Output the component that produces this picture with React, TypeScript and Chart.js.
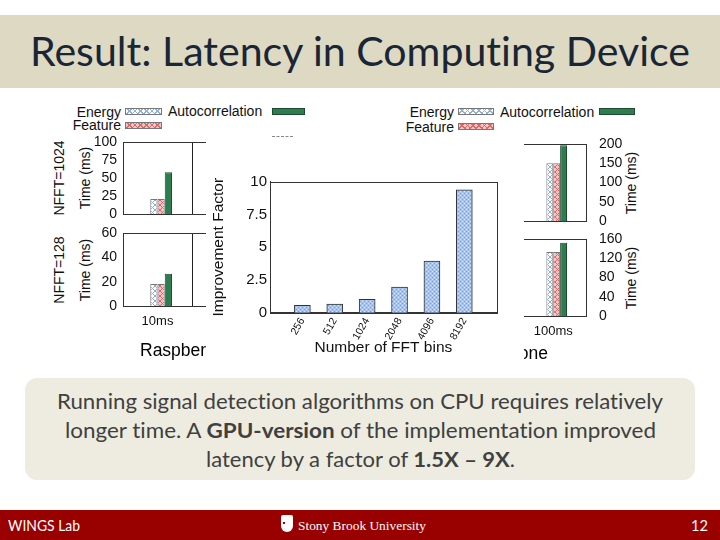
import React, { useEffect, useLayoutEffect, useRef } from 'react';
import { Chart, registerables } from 'chart.js';
Chart.register(...registerables);
Chart.defaults.font.family = "'Liberation Sans', Arial, sans-serif";

// ---- data ----
const fftBins = ['256', '512', '1024', '2048', '4096', '8192'];
const improvementFactor = [0.56, 0.66, 1.02, 1.96, 3.95, 9.37];
const improvementTicks = [0, 2.5, 5, 7.5, 10];

const seriesNames = ['Energy', 'Feature', 'Autocorrelation'];
const piWindows = ['10ms', ''];
const phoneWindows = ['', '100ms'];
const piNfft1024 = [21, 21, 58];
const piNfft128 = [18, 18, 26.5];
const phoneNfft1024 = [150, 150, 197];
const phoneNfft128 = [133, 133, 152];
const piTicks1024 = [0, 25, 50, 75, 100];
const piTicks128 = [0, 20, 40, 60];
const phoneTicks1024 = [0, 50, 100, 150, 200];
const phoneTicks128 = [0, 40, 80, 120, 160];

// ---- helpers ----
function hatch(bg: string, line: string, size = 5) {
  const c = document.createElement('canvas');
  c.width = size; c.height = size;
  const g = c.getContext('2d')!;
  g.fillStyle = bg; g.fillRect(0, 0, size, size);
  g.strokeStyle = line; g.lineWidth = 1;
  g.beginPath(); g.moveTo(0, 0); g.lineTo(size, size); g.moveTo(size, 0); g.lineTo(0, size); g.stroke();
  return g.createPattern(c, 'repeat')!;
}
function dots() {
  const c = document.createElement('canvas');
  c.width = 4; c.height = 4;
  const g = c.getContext('2d')!;
  g.fillStyle = '#a9c3ec'; g.fillRect(0, 0, 4, 4);
  g.fillStyle = '#7f9fd6'; g.fillRect(0, 0, 1, 1); g.fillRect(2, 2, 1, 1);
  g.fillStyle = '#d8e4f7'; g.fillRect(2, 0, 1, 1); g.fillRect(0, 2, 1, 1);
  return g.createPattern(c, 'repeat')!;
}

const framePlugin = {
  id: 'frame',
  afterDatasetsDraw(chart: any) {
    const { ctx, chartArea: a } = chart;
    ctx.save();
    ctx.strokeStyle = '#333';
    ctx.lineWidth = 1;
    ctx.strokeRect(Math.round(a.left) + 0.5, Math.round(a.top) + 0.5, Math.round(a.right - a.left), Math.round(a.bottom - a.top));
    ctx.restore();
  },
};

function Fit({ left, top, width, style, children }: any) {
  const ref = useRef<HTMLSpanElement>(null);
  useLayoutEffect(() => {
    const el = ref.current;
    if (!el) return;
    el.style.transform = 'none';
    const w = el.getBoundingClientRect().width;
    if (w > 0) el.style.transform = `scaleX(${width / w})`;
  });
  return (
    <div style={{ position: 'absolute', left, top, width, whiteSpace: 'nowrap' }}>
      <span ref={ref} style={{ display: 'inline-block', whiteSpace: 'nowrap', transformOrigin: 'left center', fontVariantLigatures: 'none', ...style }}>
        {children}
      </span>
    </div>
  );
}

type MiniProps = {
  left: number; top: number; width: number; height: number;
  windows: string[]; slot: number; values: number[]; ticks: number[];
  side: 'left' | 'right'; showX: boolean;
  padding: { left: number; right: number; top: number; bottom: number };
  yWidth: number; xHeight: number;
};

function MiniChart(p: MiniProps) {
  const ref = useRef<HTMLCanvasElement>(null);
  useEffect(() => {
    const fills: any[] = [hatch('#ffffff', '#8eb0e0'), hatch('#f4c4c4', '#d96a6a'), '#2e7d4f'];
    const chart = new Chart(ref.current!, {
      type: 'bar',
      data: {
        labels: p.windows,
        datasets: [
          { label: '', data: p.windows.map(() => null) },
          ...seriesNames.map((name, i) => ({
            label: name,
            data: p.windows.map((_, k) => (k === p.slot ? p.values[i] : null)),
            backgroundColor: fills[i],
            borderColor: i === 2 ? '#1d4a30' : '#777',
            borderWidth: 1,
          })),
        ] as any,
      },
      options: {
        animation: false,
        responsive: false,
        devicePixelRatio: 1,
        datasets: { bar: { barPercentage: 1, categoryPercentage: 0.42 } },
        layout: { padding: p.padding },
        plugins: { legend: { display: false }, tooltip: { enabled: false } },
        scales: {
          x: {
            offset: true,
            grid: { display: true, offset: true, color: '#222', drawTicks: false },
            border: { display: true, color: '#222' },
            ticks: { display: p.showX, font: { size: 13 }, color: '#111', padding: 8, maxRotation: 0 },
            afterFit: (s: any) => { s.height = p.xHeight; s.paddingLeft = 0; s.paddingRight = 0; },
          },
          y: {
            position: p.side,
            min: p.ticks[0],
            max: p.ticks[p.ticks.length - 1],
            afterBuildTicks: (s: any) => { s.ticks = p.ticks.map((v) => ({ value: v })); },
            grid: { display: false, drawTicks: false },
            border: { display: true, color: '#222' },
            ticks: { autoSkip: false, font: { size: 14 }, color: '#111', padding: p.side === 'left' ? 6 : 13, callback: (v: any) => String(v) },
            afterFit: (s: any) => { s.width = p.yWidth; s.paddingTop = 0; s.paddingBottom = 0; },
          },
        },
      } as any,
      plugins: [framePlugin],
    });
    return () => chart.destroy();
  }, []);
  return <canvas ref={ref} width={p.width} height={p.height} style={{ position: 'absolute', left: p.left, top: p.top }} />;
}

function MainChart() {
  const ref = useRef<HTMLCanvasElement>(null);
  useEffect(() => {
    const labels = ['', ...fftBins, ''];
    const chart = new Chart(ref.current!, {
      type: 'bar',
      data: {
        labels,
        datasets: [{
          label: 'Improvement Factor',
          data: [null, ...improvementFactor, null],
          backgroundColor: dots(),
          borderColor: '#333',
          borderWidth: 1,
          barThickness: 16,
        }] as any,
      },
      options: {
        animation: false,
        responsive: false,
        devicePixelRatio: 1,
        layout: { padding: { left: 0, right: 27.3, top: 42.7, bottom: 4 } },
        plugins: { legend: { display: false }, tooltip: { enabled: false } },
        scales: {
          x: {
            offset: false,
            grid: { display: false, drawTicks: false },
            border: { display: true, color: '#333' },
            ticks: { autoSkip: false, maxRotation: 60, minRotation: 60, font: { size: 10.5 }, color: '#111', padding: 3 },
            title: { display: true, text: 'Number of FFT bins', font: { size: 15.5 }, color: '#111', padding: { top: 0, bottom: 4 } },
            afterFit: (s: any) => { s.height = 48.3; s.paddingLeft = 0; s.paddingRight = 0; },
          },
          y: {
            min: improvementTicks[0],
            max: improvementTicks[improvementTicks.length - 1],
            afterBuildTicks: (s: any) => { s.ticks = improvementTicks.map((v) => ({ value: v })); },
            grid: { display: false, drawTicks: false },
            border: { display: true, color: '#333' },
            ticks: { autoSkip: false, font: { size: 15 }, color: '#111', padding: 3, callback: (v: any) => String(v) },
            title: { display: true, text: 'Improvement Factor', font: { size: 15.5 }, color: '#111', padding: { top: 3, bottom: 0 } },
            afterFit: (s: any) => { s.width = 64; s.paddingTop = 0; s.paddingBottom = 0; },
          },
        },
      } as any,
      plugins: [framePlugin],
    });
    return () => chart.destroy();
  }, []);
  return <canvas ref={ref} width={318} height={226} style={{ position: 'absolute', left: 0, top: 0 }} />;
}

const swEnergy: React.CSSProperties = {
  background: 'repeating-linear-gradient(45deg, #8eb0e0 0 1px, transparent 1px 4px), repeating-linear-gradient(-45deg, #8eb0e0 0 1px, #ffffff 1px 4px)',
  border: '1px solid #777', boxSizing: 'border-box',
};
const swFeature: React.CSSProperties = {
  background: 'repeating-linear-gradient(45deg, #d96a6a 0 1px, transparent 1px 4px), repeating-linear-gradient(-45deg, #d96a6a 0 1px, #f4c4c4 1px 4px)',
  border: '1px solid #777', boxSizing: 'border-box',
};
const swAuto: React.CSSProperties = { background: '#2e7d4f', border: '1px solid #1d4a30', boxSizing: 'border-box' };

function Box({ x, y, w, h, s }: any) {
  return <div style={{ position: 'absolute', left: x, top: y, width: w, height: h, ...s }} />;
}
function Label({ x, cy, text, align = 'left', size = 14 }: any) {
  const st: React.CSSProperties = { position: 'absolute', top: cy - 8, lineHeight: '16px', fontSize: size, color: '#111', whiteSpace: 'nowrap' };
  if (align === 'right') st.right = 720 - x; else st.left = x;
  return <div style={st}>{text}</div>;
}
function VLabel({ cx, cy, text }: any) {
  return (
    <div style={{ position: 'absolute', left: cx, top: cy, transform: 'translate(-50%, -50%) rotate(-90deg)', fontSize: 14, lineHeight: '16px', color: '#111', whiteSpace: 'nowrap' }}>
      {text}
    </div>
  );
}

export default function App() {
  const calibri = "Lato, 'Open Sans', sans-serif";
  return (
    <div style={{ position: 'fixed', left: 0, top: 0, width: 720, height: 540, background: '#fff', overflow: 'hidden', fontFamily: "'Liberation Sans', Arial, sans-serif" }}>
      {/* title band */}
      <div style={{ position: 'absolute', left: 0, top: 15, width: 720, height: 73, background: '#DDD9C3' }} />
      <Fit left={30} top={26.5} width={660} style={{ fontFamily: calibri, fontSize: 40, lineHeight: '48px', color: '#1a2535' }}>
        Result: Latency in Computing Device
      </Fit>

      {/* background figure: Raspberry Pi */}
      <Label x={121} cy={111.5} text="Energy" align="right" />
      <Box x={125} y={108} w={37} h={7} s={swEnergy} />
      <Label x={168} cy={111} text="Autocorrelation" />
      <Box x={272} y={108} w={33} h={7} s={swAuto} />
      <Label x={121} cy={125} text="Feature" align="right" />
      <Box x={125} y={122} w={37} h={7} s={swFeature} />
      <div style={{ position: 'absolute', left: 272, top: 136, width: 21, borderTop: '1px dashed #888' }} />
      <VLabel cx={59} cy={178} text="NFFT=1024" />
      <VLabel cx={85} cy={178} text="Time (ms)" />
      <VLabel cx={59} cy={269.5} text="NFFT=128" />
      <VLabel cx={85} cy={269.5} text="Time (ms)" />
      <MiniChart left={30} top={130} width={235} height={95} windows={piWindows} slot={0} values={piNfft1024} ticks={piTicks1024}
        side="left" showX={false} padding={{ left: 0, right: 4, top: 12, bottom: 11 }} yWidth={93} xHeight={0} />
      <MiniChart left={30} top={221} width={235} height={115} windows={piWindows} slot={0} values={piNfft128} ticks={piTicks128}
        side="left" showX={true} padding={{ left: 0, right: 4, top: 12, bottom: 0 }} yWidth={93} xHeight={30} />
      <div style={{ position: 'absolute', left: 140, top: 340, fontSize: 17.5, lineHeight: '20px', color: '#000', whiteSpace: 'nowrap' }}>Raspberry Pi</div>

      {/* background figure: Smartphone */}
      <Label x={454} cy={112} text="Energy" align="right" />
      <Box x={458} y={108} w={36} h={7} s={swEnergy} />
      <Label x={500} cy={112} text="Autocorrelation" />
      <Box x={599} y={108} w={36} h={7} s={swAuto} />
      <Label x={454} cy={127} text="Feature" align="right" />
      <Box x={458} y={123} w={36} h={7} s={swFeature} />
      <VLabel cx={631} cy={182.5} text="Time (ms)" />
      <VLabel cx={631} cy={277.5} text="Time (ms)" />
      <MiniChart left={440} top={132} width={210} height={100} windows={phoneWindows} slot={1} values={phoneNfft1024} ticks={phoneTicks1024}
        side="right" showX={false} padding={{ left: 15, right: 0, top: 12, bottom: 11 }} yWidth={64} xHeight={0} />
      <MiniChart left={440} top={227} width={210} height={119} windows={phoneWindows} slot={1} values={phoneNfft128} ticks={phoneTicks128}
        side="right" showX={true} padding={{ left: 15, right: 0, top: 12, bottom: 0 }} yWidth={64} xHeight={30} />
      <div style={{ position: 'absolute', right: 720 - 548, top: 343, fontSize: 17.5, lineHeight: '20px', color: '#000', whiteSpace: 'nowrap' }}>Smartphone</div>

      {/* overlay with the main chart */}
      <div style={{ position: 'absolute', left: 206, top: 139, width: 318, height: 226, background: '#fff', zIndex: 2 }}>
        <MainChart />
      </div>

      {/* text box */}
      <div style={{ position: 'absolute', left: 25, top: 378, width: 670, height: 102, borderRadius: 12, background: '#EEECE1' }} />
      <Fit left={57} top={386} width={606} style={{ fontFamily: calibri, fontSize: 21, lineHeight: '29px', color: '#404040' }}>
        Running signal detection algorithms on CPU requires relatively
      </Fit>
      <Fit left={65} top={415} width={591} style={{ fontFamily: calibri, fontSize: 21, lineHeight: '29px', color: '#404040' }}>
        longer time. A <b>GPU-version</b> of the implementation improved
      </Fit>
      <Fit left={206} top={444} width={309} style={{ fontFamily: calibri, fontSize: 21, lineHeight: '29px', color: '#404040' }}>
        latency by a factor of <b>1.5X – 9X</b>.
      </Fit>

      {/* footer */}
      <div style={{ position: 'absolute', left: 0, top: 510, width: 720, height: 30, background: '#990000' }} />
      <Fit left={8} top={515} width={72} style={{ fontFamily: calibri, fontSize: 15, lineHeight: '20px', color: '#fff' }}>
        WINGS Lab
      </Fit>
      <Fit left={691} top={515} width={17} style={{ fontFamily: calibri, fontSize: 15, lineHeight: '20px', color: '#fff' }}>
        12
      </Fit>
      <div style={{ position: 'absolute', left: 281, top: 515, width: 12, height: 17, background: '#fff', borderRadius: '2px 2px 6px 6px' }} />
      <div style={{ position: 'absolute', left: 283, top: 522, width: 2, height: 2, background: '#990000' }} />
      <Fit left={298} top={516} width={128} style={{ fontFamily: "'Liberation Serif', 'DejaVu Serif', serif", fontSize: 13, lineHeight: '16px', color: '#fff' }}>
        Stony Brook University
      </Fit>
    </div>
  );
}
